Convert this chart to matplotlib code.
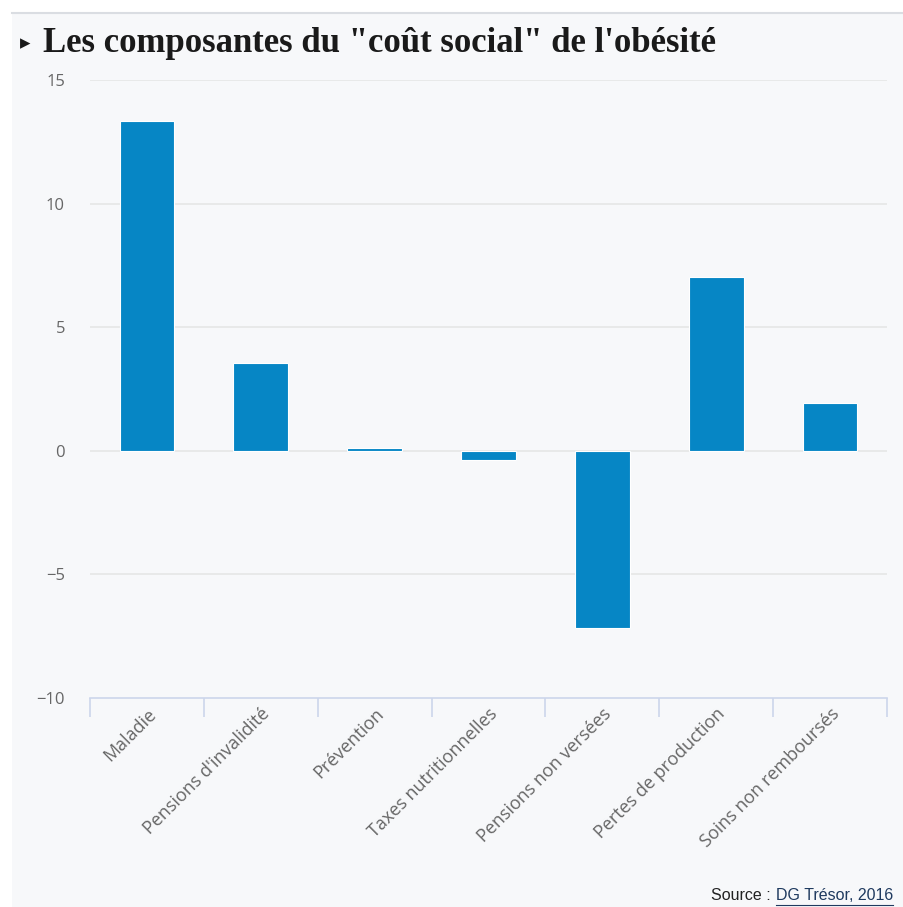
import matplotlib.pyplot as plt
import numpy as np
from matplotlib.patches import Rectangle
from matplotlib.lines import Line2D

# données (milliards d'euros)
categories = ["Maladie", "Pensions d'invalidité", "Prévention", "Taxes nutritionnelles",
              "Pensions non versées", "Pertes de production", "Soins non remboursés"]
valeurs = [13.35, 3.55, 0.1, -0.38, -7.15, 7.05, 1.95]
yticks = [-10, -5, 0, 5, 10, 15]

BLEU = '#0686c5'
FOND = '#f7f8fa'
GRIS_AXE = '#ccd6eb'

fig = plt.figure(figsize=(9.04, 9.07), dpi=100)
fig.patch.set_facecolor('white')

# panneau gris clair + filet du haut
fig.patches.append(Rectangle((12 / 904, 0), 1, 1 - 13 / 907, transform=fig.transFigure,
                             facecolor=FOND, edgecolor='none', zorder=-10))
fig.lines.append(Line2D([12 / 904, 1], [1 - 13 / 907, 1 - 13 / 907], transform=fig.transFigure,
                        color='#dadde2', linewidth=1.5))

ax = fig.add_axes([90 / 904, 1 - 698 / 907, (887 - 90) / 904, (698 - 80) / 907])
ax.set_facecolor(FOND)

x = np.arange(len(categories))
ax.bar(x, valeurs, width=0.48, color=BLEU, edgecolor='white', linewidth=0.8, zorder=3)

ax.set_xlim(-0.5, len(categories) - 0.5)
ax.set_ylim(-10, 15)
ax.set_yticks(yticks)
ax.set_yticklabels([str(v).replace('-', '−') for v in yticks], fontsize=12, color='#666666',
                   family='Open Sans')
ax.tick_params(axis='y', length=0, pad=18)
for v in yticks[1:]:
    ax.axhline(v, color='#e6e6e6', linewidth=1.2, zorder=1)

# ticks aux limites des catégories, étiquettes au centre
ax.set_xticks(np.arange(len(categories) + 1) - 0.5)
ax.set_xticklabels([])
ax.tick_params(axis='x', which='major', length=14, width=1.2, color=GRIS_AXE)
ax.set_xticks(x, minor=True)
ax.set_xticklabels(categories, minor=True, rotation=45, ha='right', rotation_mode='anchor',
                   fontsize=13, color='#666666', family='Open Sans')
ax.tick_params(axis='x', which='minor', length=0, pad=5)

for s in ['top', 'right', 'left']:
    ax.spines[s].set_visible(False)
ax.spines['bottom'].set_color(GRIS_AXE)
ax.spines['bottom'].set_linewidth(1.2)

# titre
fig.text(20 / 904, 1 - 43 / 907, '▸', fontsize=15, color='#1a1a1a', va='center', ha='left',
         family='DejaVu Sans')
fig.text(43 / 904, 1 - 43 / 907, 'Les composantes du "coût social" de l\'obésité',
         fontsize=25, fontweight='bold', color='#1a1a1a', va='center', ha='left',
         family='Liberation Serif')

# source
src = fig.text(893 / 904, 1 - 896 / 907, 'DG Trésor, 2016', fontsize=11.5, color='#1f3a5f',
               ha='right', va='center', family='Liberation Sans')
fig.canvas.draw()
bb = src.get_window_extent()
fig.lines.append(Line2D([bb.x0 / 904, bb.x1 / 904], [(bb.y0 - 1) / 907, (bb.y0 - 1) / 907],
                        transform=fig.transFigure, color='#1f3a5f', linewidth=0.8))
fig.text(bb.x0 / 904, 1 - 896 / 907, 'Source : ', fontsize=11.5, color='#222222',
         ha='right', va='center', family='Liberation Sans')

fig.savefig('out.png', dpi=100, facecolor=fig.get_facecolor())
